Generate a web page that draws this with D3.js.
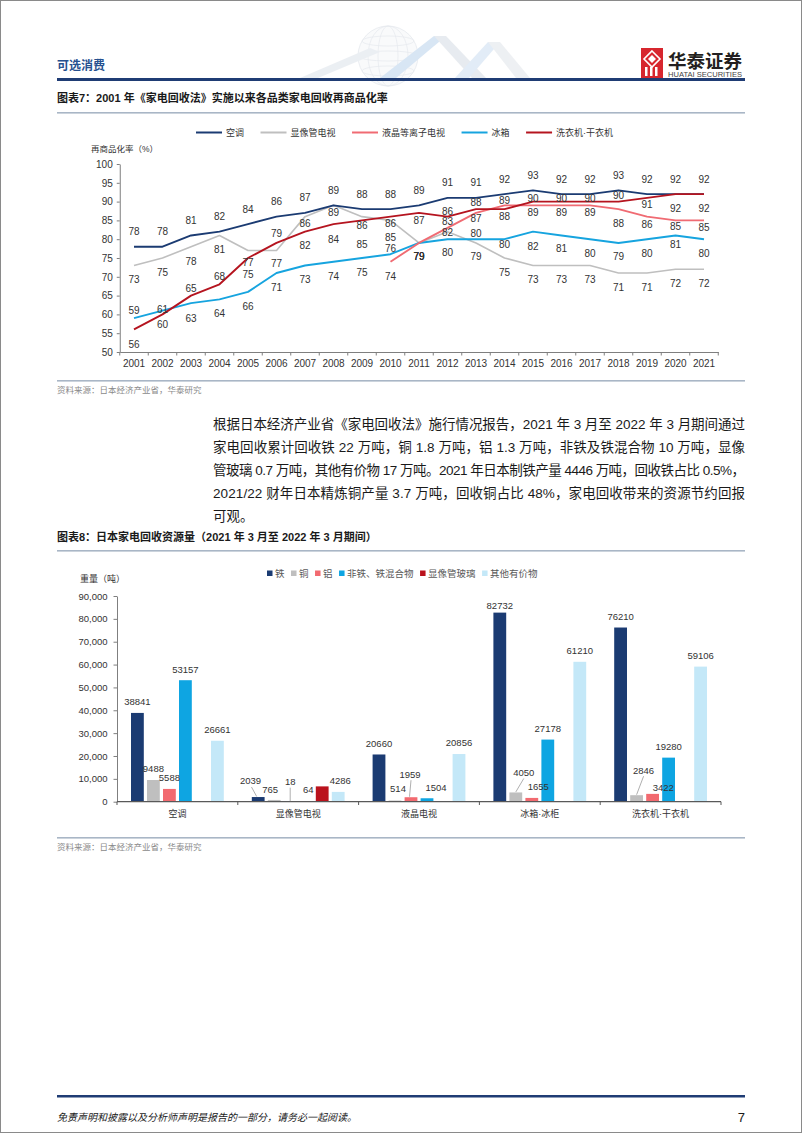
<!DOCTYPE html>
<html><head><meta charset="utf-8">
<script src="https://cdn.jsdelivr.net/npm/d3@7"></script>
<style>
html,body{margin:0;padding:0;background:#fff;}
svg{display:block;}
text{font-family:"Liberation Sans","Noto Sans CJK SC",sans-serif;}
</style></head><body>
<svg id="page" width="802" height="1133"></svg>
<script>
// ===== Chart 7 data: re-commercialisation rate (%) =====
const years = ["2001","2002","2003","2004","2005","2006","2007","2008","2009","2010","2011","2012","2013","2014","2015","2016","2017","2018","2019","2020","2021"];
const lineSeriesNames = ["空调","显像管电视","液晶等离子电视","冰箱","洗衣机·干衣机"];
const acRate     = [78,78,81,82,84,86,87,89,88,88,89,91,91,92,93,92,92,93,92,92,92];
const crtRate    = [73,75,78,81,77,77,86,89,86,85,79,82,79,75,73,73,73,71,71,72,72];
const lcdRate    = [null,null,null,null,null,null,null,null,null,74,79,83,87,89,89,89,89,88,86,85,85];
const fridgeRate = [59,61,63,64,66,71,73,74,75,76,79,80,80,80,82,81,80,79,80,81,80];
const washerRate = [56,60,65,68,75,79,82,84,85,86,87,86,88,88,90,90,90,90,91,92,92];
const lineTicks  = [50,55,60,65,70,75,80,85,90,95,100];

// ===== Chart 8 data: recovered resources (tonnes) =====
const applianceCats = ["空调","显像管电视","液晶电视","冰箱·冰柜","洗衣机·干衣机"];
const materialNames = ["铁","铜","铝","非铁、铁混合物","显像管玻璃","其他有价物"];
const ironT       = [38841,2039,20660,82732,76210];
const copperT     = [9488,765,514,4050,2846];
const aluminumT   = [5588,18,1959,1655,3422];
const nonFerrousT = [53157,64,1504,27178,19280];
const crtGlassT   = [0,6700,0,0,0];
const otherT      = [26661,4286,20856,61210,59106];
const barTicks    = [0,10000,20000,30000,40000,50000,60000,70000,80000,90000];

// ===== styles / layout (not data) =====
const lineColors = ["#1B3B72","#BFBFBF","#F06B73","#16A4DF","#B5141F"];
const lineDrawOrder = [1,3,2,0,4];
// vertical label offsets (px) per series, per year
const labelDy = [
  Array(21).fill(-15),
  [14,14,15,14,12,13.5,7,7,9,17.5,14,1,14,14,14,14,14,14,14,14,14],
  [0,0,0,0,0,0,0,0,0,14.5,14,-6.5,6,-5,7.5,7.5,7.5,14.5,8,6.5,7.5],
  [-8,-1,15,14.5,14.5,14,14,14.5,14.5,-6,14,13,-5.5,5.5,14.5,13.5,13.8,14,14,9.3,13.8],
  [15,10,-7,-8,16,-9,14,15.5,24,7,8,-5.5,-7,7,-3.6,-3.6,-3.6,-6,7,14,14]
];
const barColors = ["#1B3B72","#BFBFBF","#F26A70","#0EA5E2","#BA121C","#C4E8F8"];
const barLabelNudge = {
  "显像管电视|铁": {dx:-7.7, dy:-5, leader:true},
  "显像管电视|铜": {dx:-4, dy:1},
  "显像管电视|铝": {dx:0, dy:-9, leader:true},
  "显像管电视|非铁、铁混合物": {dx:2, dy:-1},
  "显像管电视|其他有价物": {dx:2, dy:0},
  "液晶电视|铜": {dx:3, dy:-1},
  "液晶电视|铝": {dx:-1, dy:-12, leader:true},
  "液晶电视|非铁、铁混合物": {dx:9, dy:0},
  "冰箱·冰柜|铜": {dx:8, dy:-9, leader:true},
  "冰箱·冰柜|铝": {dx:6.5, dy:0},
  "洗衣机·干衣机|铜": {dx:7, dy:-14, leader:true},
  "洗衣机·干衣机|铝": {dx:10.7, dy:5}
};

const svg = d3.select("#page");
const NAVY = "#1F3C74";

// page frame
svg.append("rect").attr("x",0.5).attr("y",0.5).attr("width",801).attr("height",1132)
  .attr("fill","none").attr("stroke","#8a8a8a");

// ===== header decoration =====
const deco = svg.append("g").attr("opacity",0.45);
deco.append("circle").attr("cx",388).attr("cy",56).attr("r",30).attr("fill","#F2F4F7").attr("stroke","#C9D0DA").attr("stroke-width",0.8);
[10,20].forEach(rx=>deco.append("ellipse").attr("cx",388).attr("cy",56).attr("rx",rx).attr("ry",30).attr("fill","none").attr("stroke","#C9D0DA").attr("stroke-width",0.7));
[-15,0,15].forEach(dy=>deco.append("ellipse").attr("cx",388).attr("cy",56+dy).attr("rx",Math.sqrt(900-dy*dy)).attr("ry",5).attr("fill","none").attr("stroke","#C9D0DA").attr("stroke-width",0.7));
const ribbons = [
  {pts:[[300,78],[318,78],[380,52],[370,48]],c:"#D5DCE6"},
  {pts:[[380,78],[396,78],[446,36],[434,36]],c:"#A9C8E8"},
  {pts:[[434,36],[446,36],[486,78],[472,78]],c:"#CCD4DE"},
  {pts:[[455,78],[469,78],[500,42],[488,42]],c:"#BFD6EE"},
  {pts:[[488,42],[500,42],[530,78],[516,78]],c:"#D9DEE5"}
];
ribbons.forEach(r=>deco.append("polygon").attr("points",r.pts.map(p=>p.join(",")).join(" ")).attr("fill",r.c));

// header text
svg.append("text").attr("x",57).attr("y",70).attr("font-size",12).attr("font-weight","bold").attr("fill","#25508F").text("可选消费");
// logo
const logo = svg.append("g");
logo.append("rect").attr("x",641).attr("y",48).attr("width",22).attr("height",30).attr("fill","#D7262E");
logo.append("path").attr("d","M652 51 L660 59 L652 67 L644 59 Z").attr("fill","none").attr("stroke","#fff").attr("stroke-width",1.6);
logo.append("path").attr("d","M652 55 L656 59 L652 63 L648 59 Z").attr("fill","#fff");
[645,650,655].forEach(x=>logo.append("rect").attr("x",x).attr("y",67).attr("width",2.5).attr("height",9).attr("fill","#fff"));
svg.append("text").attr("x",668).attr("y",68).attr("font-size",18.5).attr("font-weight","bold").attr("fill","#231F20").text("华泰证券");
svg.append("text").attr("x",668).attr("y",77).attr("font-size",6.3).attr("fill","#444").attr("textLength",74).attr("lengthAdjust","spacingAndGlyphs").text("HUATAI SECURITIES");
svg.append("rect").attr("x",57).attr("y",78).attr("width",688).attr("height",3).attr("fill",NAVY);

// ===== titles & rules =====
function title(y, t){
  svg.append("text").attr("x",57).attr("y",y).attr("font-size",11).attr("font-weight","bold").attr("fill","#1a1a1a").text(t);
}
function rule(y){
  svg.append("rect").attr("x",57).attr("y",y).attr("width",688).attr("height",1.6).attr("fill","#A9B6C6");
}
function source(y){
  svg.append("text").attr("x",57).attr("y",y).attr("font-size",8.5).attr("fill","#8a8a8a").text("资料来源：日本经济产业省，华泰研究");
}
title(102,"图表7：2001 年《家电回收法》实施以来各品类家电回收再商品化率");
rule(112);
rule(380);
source(393);

// ===== Chart 7: line chart =====
const xL = d3.scaleBand().domain(years).range([119.75,718.25]);
const yL = d3.scaleLinear().domain([50,100]).range([352,164]);
const cxL = y => xL(y) + xL.bandwidth()/2;
const lineData = [acRate,crtRate,lcdRate,fridgeRate,washerRate];

const gL = svg.append("g");
const yAx = gL.append("g").attr("transform","translate(119.75,0)")
  .call(d3.axisLeft(yL).tickValues(lineTicks).tickSize(3).tickSizeOuter(0).tickPadding(4));
const xAx = gL.append("g").attr("transform","translate(0,352)")
  .call(d3.axisBottom(xL).tickSize(0).tickSizeOuter(0).tickPadding(8));
[yAx,xAx].forEach(a=>{
  a.attr("font-family",null);
  a.selectAll("text").attr("font-size",10).attr("fill","#333");
  a.selectAll("path,line").attr("stroke","#7f7f7f");
});
const bounds = years.map(y=>xL(y)).concat([xL.range()[1]]);
gL.selectAll(".xb").data(bounds).enter().append("line")
  .attr("x1",d=>d).attr("x2",d=>d).attr("y1",352).attr("y2",355.5).attr("stroke","#7f7f7f");

svg.append("text").attr("x",91).attr("y",152).attr("font-size",8.5).attr("fill","#333").text("再商品化率（%）");

lineDrawOrder.forEach(k=>{
  const ln = d3.line().defined(d=>d!=null).x((d,i)=>cxL(years[i])).y(d=>yL(d));
  gL.append("path").datum(lineData[k]).attr("d",ln).attr("fill","none")
    .attr("stroke",lineColors[k]).attr("stroke-width",k===1?1.6:1.9).attr("stroke-linejoin","round");
});
lineData.forEach((arr,k)=>{
  arr.forEach((v,i)=>{
    if(v==null) return;
    gL.append("text").attr("x",cxL(years[i])).attr("y",yL(v)+labelDy[k][i]).attr("dy","0.35em")
      .attr("text-anchor","middle").attr("font-size",10).attr("fill","#333").text(v);
  });
});
let lx = 196;
lineSeriesNames.forEach((n,k)=>{
  svg.append("line").attr("x1",lx).attr("x2",lx+26).attr("y1",132.5).attr("y2",132.5).attr("stroke",lineColors[k]).attr("stroke-width",2);
  const t = svg.append("text").attr("x",lx+30).attr("y",132.5).attr("dy","0.35em").attr("font-size",9).attr("fill","#333").text(n);
  lx += 30 + t.node().getComputedTextLength() + 16.5;
});

// ===== paragraph =====
const paraLines = [
  "根据日本经济产业省《家电回收法》施行情况报告，2021 年 3 月至 2022 年 3 月期间通过",
  "家电回收累计回收铁 22 万吨，铜 1.8 万吨，铝 1.3 万吨，非铁及铁混合物 10 万吨，显像",
  "管玻璃 0.7 万吨，其他有价物 17 万吨。2021 年日本制铁产量 4446 万吨，回收铁占比 0.5%，",
  "2021/22 财年日本精炼铜产量 3.7 万吨，回收铜占比 48%，家电回收带来的资源节约回报",
  "可观。"
];
paraLines.forEach((s,i)=>{
  const t = svg.append("text").attr("x",213).attr("y",424+i*23).attr("dy","0.36em")
    .attr("font-size",13.5).attr("fill","#1a1a1a").text(s);
  if(i<4) t.attr("textLength",532).attr("lengthAdjust","spacing");
});

// ===== Chart 8: grouped bars =====
title(541,"图表8：日本家电回收资源量（2021 年 3 月至 2022 年 3 月期间）");
rule(550);
rule(837);
source(850);

const x0 = d3.scaleBand().domain(applianceCats).range([117,721]);
const x1 = d3.scaleBand().domain(materialNames).range([0,x0.bandwidth()]).paddingInner(0.2).paddingOuter(0.875);
const yB = d3.scaleLinear().domain([0,90000]).range([801.7,596]);
const matSeries = [ironT,copperT,aluminumT,nonFerrousT,crtGlassT,otherT];
const gB = svg.append("g");

matSeries.forEach((arr,j)=>{
  gB.selectAll(null).data(arr).enter().append("rect")
    .attr("x",(d,i)=>x0(applianceCats[i])+x1(materialNames[j]))
    .attr("y",d=>yB(d)).attr("width",x1.bandwidth()).attr("height",d=>yB(0)-yB(d))
    .attr("fill",barColors[j]);
});
const yBAx = gB.append("g").attr("transform","translate(117,0)")
  .call(d3.axisLeft(yB).tickValues(barTicks).tickFormat(d3.format(",")).tickSize(3.5).tickSizeOuter(0).tickPadding(6));
yBAx.attr("font-family",null);
yBAx.selectAll("text").attr("font-size",9.5).attr("fill","#333");
yBAx.selectAll("path,line").attr("stroke","#7f7f7f");
gB.append("line").attr("x1",117).attr("x2",721).attr("y1",801.7).attr("y2",801.7).attr("stroke","#595959").attr("stroke-width",1.2);
const gb = applianceCats.map(c=>x0(c)).concat([x0.range()[1]]);
gB.selectAll(".gb").data(gb).enter().append("line").attr("x1",d=>d).attr("x2",d=>d).attr("y1",801.7).attr("y2",805).attr("stroke","#595959");
applianceCats.forEach(c=>{
  gB.append("text").attr("x",x0(c)+x0.bandwidth()/2).attr("y",813.5).attr("dy","0.35em")
    .attr("text-anchor","middle").attr("font-size",9).attr("fill","#333").text(c);
});
svg.append("text").attr("x",80).attr("y",579).attr("dy","0.35em").attr("font-size",9).attr("fill","#333").text("重量（吨）");

matSeries.forEach((arr,j)=>{
  const m = materialNames[j];
  if(m==="显像管玻璃") return;
  arr.forEach((v,i)=>{
    const c = applianceCats[i];
    const cx = x0(c)+x1(m)+x1.bandwidth()/2;
    const top = yB(v);
    const nd = barLabelNudge[c+"|"+m] || {dx:0,dy:0};
    const lxp = cx + nd.dx;
    const lyp = Math.max(top-11, 606) + nd.dy;
    if(nd.leader){
      gB.append("line").attr("x1",lxp+(nd.dx<0?1:0)).attr("y1",lyp+6)
        .attr("x2",cx-(nd.dx<0?1.5:0)).attr("y2",top-0.5).attr("stroke","#9a9a9a").attr("stroke-width",0.8);
    }
    gB.append("text").attr("x",lxp).attr("y",lyp).attr("dy","0.35em").attr("text-anchor","middle")
      .attr("font-size",9.5).attr("fill","#333").text(v);
  });
});
let bx = 267;
materialNames.forEach((n,j)=>{
  svg.append("rect").attr("x",bx).attr("y",570.5).attr("width",5.5).attr("height",5.5).attr("fill",barColors[j]);
  const t = svg.append("text").attr("x",bx+8).attr("y",573.3).attr("dy","0.35em").attr("font-size",9.5).attr("fill","#595959").text(n);
  bx += 8 + t.node().getComputedTextLength() + 6.5;
});

// ===== footer =====
svg.append("rect").attr("x",57).attr("y",1095).attr("width",688).attr("height",2.5).attr("fill",NAVY);
svg.append("text").attr("x",57).attr("y",1121).attr("font-size",10).attr("font-style","italic").attr("fill","#1a1a1a").text("免责声明和披露以及分析师声明是报告的一部分，请务必一起阅读。");
svg.append("text").attr("x",745).attr("y",1122).attr("text-anchor","end").attr("font-size",13).attr("fill","#1a1a1a").text("7");
</script>
</body></html>
